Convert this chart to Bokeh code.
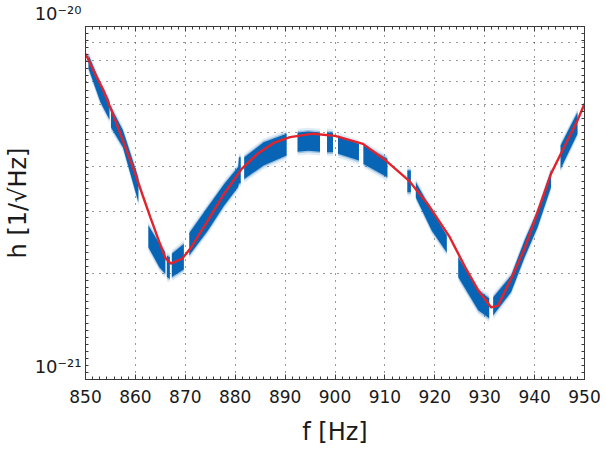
from bokeh.plotting import figure
from bokeh.models import (Range1d, LogAxis, LinearAxis, FixedTicker, SingleIntervalTicker,
                          CustomJSTickFormatter)
from bokeh.embed import file_html
from bokeh.resources import INLINE

UNIT = 1e-21  # values below are in units of 1e-21 1/sqrt(Hz)

# red fitted curve
fit_f = [850.0, 851.6, 853.6, 855.6, 857.5, 859.5, 861.5, 863.0, 864.8, 866.0, 867.1,
         869.4, 871.2, 874.5, 877.8, 881.3, 884.4, 887.7, 891.0, 895.6, 900.0, 905.6,
         910.2, 914.8, 918.8, 923.0, 926.1, 928.7, 931.3, 932.7, 935.3, 938.0, 940.6,
         943.3, 945.9, 948.6, 950.0]
fit_h = [8.37, 7.50, 6.59, 5.60, 4.75, 4.00, 3.31, 2.88, 2.45, 2.21, 2.13,
         2.20, 2.37, 2.82, 3.36, 3.95, 4.35, 4.68, 4.86, 4.97, 4.90, 4.65,
         4.17, 3.66, 3.11, 2.53, 2.08, 1.79, 1.60, 1.62, 1.93, 2.35, 2.98,
         3.83, 4.55, 5.42, 6.04]

# blue measured band: lower / upper edge, None marks a gap in the data
band_f = [850.6, 853.0, 854.8, None,
          855.1, 857.5, 860.6, None,
          862.6, 864.8, 866.0, None,
          866.3, 866.9, None,
          867.3, 869.7, None,
          870.8, 874.5, 877.8, 880.6, 880.75, 881.1, None,
          881.8, 885.7, 890.3, None,
          892.5, 894.7, 897.0, None,
          898.4, 899.6, None,
          900.6, 904.8, None,
          905.7, 910.5, None,
          914.5, 915.2, None,
          916.2, 919.4, 922.4, None,
          924.7, 928.7, 930.9, None,
          931.7, 935.3, 938.0, 940.6, 943.3, None,
          945.2, 948.6]
band_lo = [7.60, 6.10, 5.45, None,
           5.18, 4.55, 3.18, None,
           2.37, 2.08, 1.99, None,
           1.95, 1.93, None,
           1.95, 2.05, None,
           2.25, 2.64, 3.11, 3.51, 3.59, 3.60, None,
           3.70, 4.04, 4.31, None,
           4.42, 4.45, 4.42, None,
           4.40, 4.40, None,
           4.36, 4.17, None,
           4.08, 3.74, None,
           3.39, 3.39, None,
           3.28, 2.64, 2.29, None,
           1.95, 1.57, 1.49, None,
           1.52, 1.77, 2.22, 2.70, 3.51, None,
           3.95, 4.97]
band_hi = [8.30, 6.90, 6.15, None,
           5.91, 5.08, 3.72, None,
           2.73, 2.43, 2.29, None,
           2.24, 2.22, None,
           2.27, 2.42, None,
           2.60, 3.08, 3.58, 4.00, 4.26, 4.26, None,
           4.26, 4.70, 4.97, None,
           5.01, 5.04, 5.01, None,
           5.02, 5.00, None,
           4.88, 4.65, None,
           4.60, 4.22, None,
           3.91, 3.91, None,
           3.62, 3.01, 2.56, None,
           2.22, 1.79, 1.70, None,
           1.71, 1.97, 2.48, 3.01, 3.91, None,
           4.60, 5.72]

x_ticks = [850, 860, 870, 880, 890, 900, 910, 920, 930, 940, 950]
y_decades = [1e-21, 1e-20]
y_tick_labels = ["10\u207b\u00b2\u00b9", "10\u207b\u00b2\u2070"]
y_grid = [2e-21, 3e-21, 4e-21, 5e-21, 6e-21, 7e-21, 8e-21, 9e-21]

FONT = "DejaVu Sans"
TXT = "#1a1a1a"
AX = "#3a3a3a"

p = figure(width=606, height=450, x_range=Range1d(850, 950), y_range=Range1d(1e-21, 1e-20),
           y_axis_type="log", output_backend="svg", toolbar_location=None,
           min_border_left=80, min_border_right=22, min_border_top=26, min_border_bottom=71)
p.background_fill_color = "white"
p.border_fill_color = "white"
p.outline_line_color = AX

# band blocks
blocks = []
cur = []
for f, lo, hi in zip(band_f, band_lo, band_hi):
    if f is None:
        if cur:
            blocks.append(cur)
        cur = []
    else:
        cur.append((f, lo, hi))
if cur:
    blocks.append(cur)

BLUE = "#0865b5"
for blk in blocks:
    fs = [b[0] for b in blk]
    los = [b[1] * UNIT for b in blk]
    his = [b[2] * UNIT for b in blk]
    p.varea(x=fs, y1=[v * 0.975 for v in los], y2=[v * 1.025 for v in his],
            fill_color=BLUE, fill_alpha=0.12)
    p.varea(x=fs, y1=[v * 0.99 for v in los], y2=[v * 1.01 for v in his],
            fill_color=BLUE, fill_alpha=0.3)
    p.varea(x=fs, y1=los, y2=his, fill_color=BLUE, fill_alpha=1.0)

p.line(fit_f, [h * UNIT for h in fit_h], line_color="#e3232c", line_width=2.4)

# x axes
xt = SingleIntervalTicker(interval=10, num_minor_ticks=7)
xa = p.xaxis[0]
xa.ticker = xt
xa.major_label_text_font = FONT
xa.major_label_text_font_size = "17px"
xa.major_label_text_color = TXT
xa.major_label_standoff = 10
xa.axis_label = "f [Hz]"
xa.axis_label_text_font = FONT
xa.axis_label_text_font_size = "24px"
xa.axis_label_text_font_style = "normal"
xa.axis_label_text_color = TXT
xa.axis_label_standoff = 12
xa.axis_line_color = AX
xa.major_tick_line_color = AX
xa.minor_tick_line_color = AX
xa.major_tick_in = 5
xa.major_tick_out = 0
xa.minor_tick_in = 3
xa.minor_tick_out = 0
top = LinearAxis(ticker=xt, formatter=CustomJSTickFormatter(code="return ''"),
                 axis_line_color=AX, major_tick_line_color=AX, minor_tick_line_color=AX,
                 major_tick_in=5, major_tick_out=0, minor_tick_in=3, minor_tick_out=0,
                 major_label_text_font_size="1px", major_label_standoff=0)
p.add_layout(top, "above")

# y axes
minor_y = [10 ** (-21 + k / 50) for k in range(1, 50)]
yt = FixedTicker(ticks=y_decades, minor_ticks=minor_y)
ya = p.yaxis[0]
ya.ticker = yt
lab_js = "const m = {%s}; return m[index] + '\\n';" % ", ".join(
    "%d: '%s'" % (i, s) for i, s in enumerate(y_tick_labels))
ya.formatter = CustomJSTickFormatter(code=lab_js)
ya.major_label_text_font = FONT
ya.major_label_text_font_size = "18px"
ya.major_label_text_color = TXT
ya.major_label_standoff = 4
ya.axis_label = "h [1/\u221aHz]"
ya.axis_label_text_font = FONT
ya.axis_label_text_font_size = "24px"
ya.axis_label_text_font_style = "normal"
ya.axis_label_text_color = TXT
ya.axis_label_standoff = 0
ya.axis_line_color = AX
ya.major_tick_line_color = AX
ya.minor_tick_line_color = AX
ya.major_tick_in = 5
ya.major_tick_out = 0
ya.minor_tick_in = 3
ya.minor_tick_out = 0
right = LogAxis(ticker=yt, formatter=CustomJSTickFormatter(code="return ''"),
                axis_line_color=AX, major_tick_line_color=AX, minor_tick_line_color=AX,
                major_tick_in=5, major_tick_out=0, minor_tick_in=3, minor_tick_out=0,
                major_label_text_font_size="1px", major_label_standoff=0)
p.add_layout(right, "right")

# grids
p.xgrid.ticker = FixedTicker(ticks=x_ticks[1:-1])
p.xgrid.grid_line_color = "#333333"
p.xgrid.grid_line_dash = "1 6"
p.xgrid.grid_line_width = 1
p.ygrid.ticker = FixedTicker(ticks=y_grid)
p.ygrid.grid_line_color = "#333333"
p.ygrid.grid_line_dash = "1 6"
p.ygrid.grid_line_width = 1

open("out.html", "w").write(file_html(p, INLINE))
